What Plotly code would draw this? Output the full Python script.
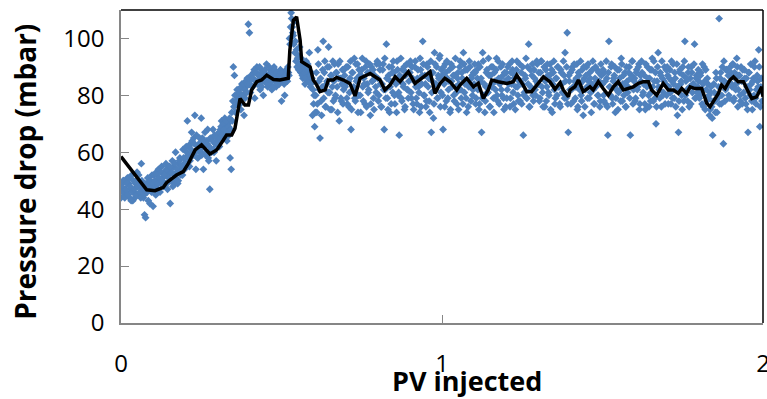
import plotly.graph_objects as go

# ---------------- data ----------------
# raw pressure-drop samples, 30 samples per 0.1 PV (set A), plus interleaved samples (set B)
step = 1.0 / 300
r0 = [44,49,50,47,45,46,51,49,44,47, 52,43,46,44,50,53,48,45,49,56, 47,44,38,37,46,51,49,42,47,52]
r1 = [41,52,48,53,47,54,50,49,55,51, 48,53,56,49,52,54,42,50,57,55, 49,60,53,49,56,58,52,54,61,56]
r2 = [58,62,71,59,55,63,67,60,65,73, 54,61,58,63,60,72,65,54,62,59, 64,68,57,47,61,65,68,60,63,57]
r3 = [64,66,62,68,71,65,67,72,69,64, 70,66,58,54,71,90,87,74,80,77, 82,78,75,84,80,73,79,83,86,105]
r4 = [102,81,86,83,88,79,85,90,84,87, 82,89,85,80,88,86,91,83,87,84, 89,82,86,90,85,83,88,86,84,89]
r5 = [78,87,85,80,88,86,90,87,98,109, 104,101,106,99,96,93,89,97,88,91, 86,90,84,92,87,89,95,83,88,73]
r6 = [77,69,80,74,96,85,65,78,83,99, 88,76,84,90,97,81,87,75,92,85, 79,88,83,91,71,86,78,89,82,87]
r7 = [84,79,90,76,86,68,88,82,93,78, 85,91,80,87,74,89,83,86,77,92, 84,81,88,73,90,85,79,87,83,91]
r8 = [86,80,89,76,84,91,68,82,98,79, 87,74,85,90,81,88,77,84,92,80, 66,86,79,89,83,75,87,91,82,85]
r9 = [88,81,90,77,85,92,79,86,83,74, 89,84,99,80,87,76,91,83,78,88, 67,85,72,95,82,90,79,86,94,81]
r10 = [87,68,84,91,78,86,82,89,75,85, 90,80,87,83,77,88,84,92,79,86, 95,81,89,74,85,83,90,78,87,82]
r11 = [84,88,79,86,91,77,85,67,95,80, 74,83,89,81,87,76,90,84,79,88, 82,93,78,86,84,90,80,87,75,85]
r12 = [88,82,86,91,79,84,89,77,87,83, 92,80,85,78,88,84,66,81,86,79, 90,98,76,83,87,80,89,82,85,91]
r13 = [84,78,88,92,81,86,76,89,83,87, 80,91,85,74,88,82,79,86,90,83, 77,89,84,81,87,95,79,102,67,85]
r14 = [88,82,90,78,85,83,91,76,87,84, 80,89,73,86,82,90,79,85,88,81, 84,92,77,86,83,89,80,85,78,87]
r15 = [84,80,88,77,86,66,99,83,90,79, 85,87,74,82,89,81,86,78,91,84, 80,88,76,85,83,90,66,87,92,82]
r16 = [86,79,89,83,91,77,85,88,81,87, 75,84,90,80,86,78,89,83,92,79, 70,85,95,82,88,76,86,81,90,84]
r17 = [80,87,83,89,77,85,91,79,86,82, 73,67,88,84,80,90,78,99,85,82, 88,76,86,90,81,84,98,79,87,83]
r18 = [85,80,88,77,84,90,75,82,86,79, 73,81,76,66,84,78,88,74,80,107, 86,77,90,63,85,82,89,84,80,87]
r19 = [88,83,91,79,86,84,90,82,87,78, 85,89,81,86,77,83,67,88,80,84, 75,86,90,79,82,85,96,69,83,78]

s0 = [48,46,50,44,47,49,45,51,48,43, 46,50,47,49,45,48,52,46,44,50, 48,45,47,49,46,43,48,50,46,49]
s1 = [47,50,45,52,49,51,46,53,50,48, 52,49,54,47,51,55,50,53,48,52, 56,51,54,50,57,53,55,52,58,54]
s2 = [56,60,58,62,57,61,64,59,63,60, 66,58,62,65,61,59,64,62,67,60, 63,58,62,65,60,64,61,66,63,65]
s3 = [63,67,65,69,66,70,68,65,71,67, 69,72,68,74,78,76,80,78,82,79, 81,77,83,80,84,82,85,81,84,86]
s4 = [84,87,83,86,89,85,88,84,87,90, 86,83,88,85,89,87,84,86,90,88, 85,87,83,89,86,88,84,87,85,88]
s5 = [86,88,84,87,89,85,88,100,104,107, 102,98,95,92,90,94,91,89,93,87, 90,88,86,89,91,85,87,84,86,82]
s6 = [80,74,88,77,91,82,86,73,89,79, 92,76,85,81,90,75,87,83,78,91, 80,88,74,86,92,79,84,77,89,83]
s7 = [90,77,85,81,92,75,88,83,79,91, 86,74,89,80,87,93,78,84,90,76, 88,82,91,77,85,89,75,86,81,92]
s8 = [78,91,84,76,89,82,93,79,86,75, 90,83,77,88,92,80,85,74,89,81, 87,93,78,84,90,76,88,82,79,91]
s9 = [92,79,86,75,90,83,77,89,81,93, 76,87,91,80,84,78,90,86,74,92, 81,88,77,91,84,79,87,93,76,89]
s10 = [80,90,76,88,92,79,85,74,91,83, 87,78,93,81,86,75,90,82,88,77, 91,84,79,89,76,92,83,86,80,88]
s11 = [91,77,89,82,75,90,86,79,92,84, 78,88,81,93,76,87,83,90,74,85, 89,80,92,77,86,82,91,79,88,76]
s12 = [79,90,84,76,88,92,81,86,75,89, 83,78,91,85,77,90,80,87,93,79, 84,76,89,82,91,78,86,80,92,84]
s13 = [88,79,92,83,76,90,85,78,91,81, 87,75,89,84,92,77,86,80,90,83, 76,88,81,92,79,85,90,77,87,82]
s14 = [77,89,83,91,79,86,75,88,82,92, 78,85,90,76,87,83,91,79,86,74, 89,82,77,90,85,80,88,76,91,84]
s15 = [89,78,85,92,76,88,83,80,91,77, 86,90,79,84,75,89,82,93,78,87, 84,76,90,81,88,79,86,92,77,85]
s16 = [78,88,82,90,75,87,92,80,84,77, 91,83,86,76,89,81,93,78,85,88, 76,90,83,79,87,92,80,85,77,89]
s17 = [90,77,86,81,92,79,84,88,76,91, 83,78,89,85,75,87,92,80,86,78, 90,83,77,88,84,91,79,86,81,89]
s18 = [79,87,82,91,76,85,89,78,84,80, 75,83,72,78,81,74,86,79,83,77, 88,80,85,92,78,89,83,87,79,90]
s19 = [84,91,78,88,82,93,76,87,80,90, 77,85,89,79,86,75,88,82,91,78, 85,80,92,77,87,83,90,76,86,81]

set_a = r0 + r1 + r2 + r3 + r4 + r5 + r6 + r7 + r8 + r9 + r10 + r11 + r12 + r13 + r14 + r15 + r16 + r17 + r18 + r19
set_b = s0 + s1 + s2 + s3 + s4 + s5 + s6 + s7 + s8 + s9 + s10 + s11 + s12 + s13 + s14 + s15 + s16 + s17 + s18 + s19
scatter_x = [i * step for i in range(len(set_a))] + [(i + 0.5) * step for i in range(len(set_b))]
scatter_y = set_a + set_b

# moving-average line
line_x = [0.000, 0.028, 0.049, 0.080, 0.106, 0.132, 0.142, 0.173, 0.194, 0.210, 0.231, 0.251, 0.277, 0.298,
          0.319, 0.329, 0.345, 0.355, 0.371, 0.386, 0.397, 0.407, 0.423, 0.438, 0.454, 0.475, 0.495, 0.521,
          0.526, 0.537, 0.547, 0.558, 0.563, 0.578, 0.589, 0.599, 0.610, 0.620, 0.636, 0.646, 0.661, 0.672,
          0.693, 0.713, 0.729, 0.745, 0.776, 0.807, 0.822, 0.838, 0.854, 0.869, 0.895, 0.916, 0.931, 0.963,
          0.978, 0.994, 1.009, 1.025, 1.046, 1.056, 1.077, 1.098, 1.113, 1.129, 1.144, 1.155, 1.175, 1.202,
          1.222, 1.233, 1.253, 1.264, 1.279, 1.295, 1.316, 1.336, 1.352, 1.368, 1.378, 1.394, 1.399, 1.414,
          1.425, 1.440, 1.461, 1.471, 1.487, 1.502, 1.518, 1.534, 1.549, 1.565, 1.580, 1.596, 1.612, 1.627,
          1.643, 1.653, 1.669, 1.689, 1.705, 1.721, 1.736, 1.747, 1.762, 1.773, 1.788, 1.809, 1.825, 1.835,
          1.845, 1.861, 1.871, 1.882, 1.897, 1.908, 1.923, 1.939, 1.954, 1.965, 1.980, 1.996, 2.000]
line_y = [58.5, 54.4, 50.9, 46.8, 46.5, 47.7, 49.3, 52.0, 53.2, 56.1, 60.8, 62.6, 59.4, 60.8,
          64.3, 66.1, 66.1, 68.4, 78.9, 76.6, 76.6, 81.9, 84.8, 85.4, 87.1, 85.6, 85.4, 86.0,
          95.9, 106.4, 107.6, 99.4, 91.8, 90.6, 90.0, 85.4, 83.6, 81.3, 81.9, 85.4, 85.4, 86.3,
          85.4, 84.2, 79.8, 86.0, 87.7, 85.4, 81.9, 83.6, 86.5, 84.8, 88.3, 84.2, 85.4, 88.3,
          80.7, 84.2, 86.0, 84.8, 81.9, 83.6, 86.0, 83.0, 84.2, 78.9, 81.9, 85.4, 84.8, 84.2,
          84.8, 87.1, 83.6, 81.3, 81.3, 83.6, 86.5, 84.8, 82.2, 84.5, 81.9, 79.5, 81.9, 83.0,
          85.4, 81.3, 83.0, 81.9, 84.8, 82.4, 80.1, 83.0, 84.8, 81.9, 82.4, 83.0, 84.2, 84.8,
          84.8, 81.9, 80.1, 84.2, 81.9, 81.9, 80.7, 82.4, 80.7, 83.0, 82.4, 82.4, 77.2, 76.0,
          77.8, 80.7, 83.6, 82.4, 85.4, 86.5, 84.8, 84.8, 81.3, 78.9, 79.5, 83.0, 79.5]

y_ticks = [0, 20, 40, 60, 80, 100]
x_ticks = [0, 1, 2]
x_title = "PV injected"
y_title = "Pressure drop (mbar)"

# ---------------- figure ----------------
FONT = "Open Sans"
fig = go.Figure()
fig.add_trace(go.Scatter(
    x=scatter_x, y=scatter_y, mode="markers",
    marker=dict(symbol="diamond", size=6, color="#4F81BD", line=dict(width=0)),
    showlegend=False, hoverinfo="skip"))
fig.add_trace(go.Scatter(
    x=line_x, y=line_y, mode="lines",
    line=dict(color="black", width=3.5),
    showlegend=False, hoverinfo="skip"))

axis_color = "#868686"
fig.update_layout(
    width=767, height=399,
    margin=dict(l=121, r=4, t=10, b=76),
    paper_bgcolor="white", plot_bgcolor="white",
    font=dict(family=FONT, color="black", size=24),
    xaxis=dict(range=[0, 2], tickvals=x_ticks, ticktext=[str(v) for v in x_ticks],
               ticks="inside", ticklen=8, tickcolor=axis_color, tickwidth=1,
               showline=True, linecolor=axis_color, linewidth=1.5,
               showgrid=False, zeroline=False, ticklabelstandoff=18,
               ticklabeloverflow="allow", automargin=False,
               tickfont=dict(family=FONT, size=24, color="black")),
    yaxis=dict(range=[0, 110], tickvals=y_ticks, ticktext=[str(v) for v in y_ticks],
               ticks="inside", ticklen=8, tickcolor=axis_color, tickwidth=1,
               showline=True, linecolor=axis_color, linewidth=1.5,
               showgrid=False, zeroline=False, ticklabelstandoff=10,
               automargin=False,
               tickfont=dict(family=FONT, size=24, color="black")),
    shapes=[
        dict(type="line", xref="paper", yref="paper", x0=0, x1=1, y0=1, y1=1,
             line=dict(color="black", width=1.5)),
        dict(type="line", xref="paper", yref="paper", x0=1, x1=1, y0=0, y1=1,
             line=dict(color="black", width=1.5)),
    ],
    annotations=[
        dict(text="<b>" + x_title + "</b>", xref="paper", yref="paper",
             x=0.539, y=-0.185, xanchor="center", yanchor="middle", showarrow=False,
             font=dict(family=FONT, size=27, color="black")),
        dict(text="<b>" + y_title + "</b>", xref="paper", yref="paper",
             x=-0.150, y=0.482, xanchor="center", yanchor="middle", showarrow=False,
             textangle=-90, font=dict(family=FONT, size=28, color="black")),
    ],
)

fig.write_html("out.html")
